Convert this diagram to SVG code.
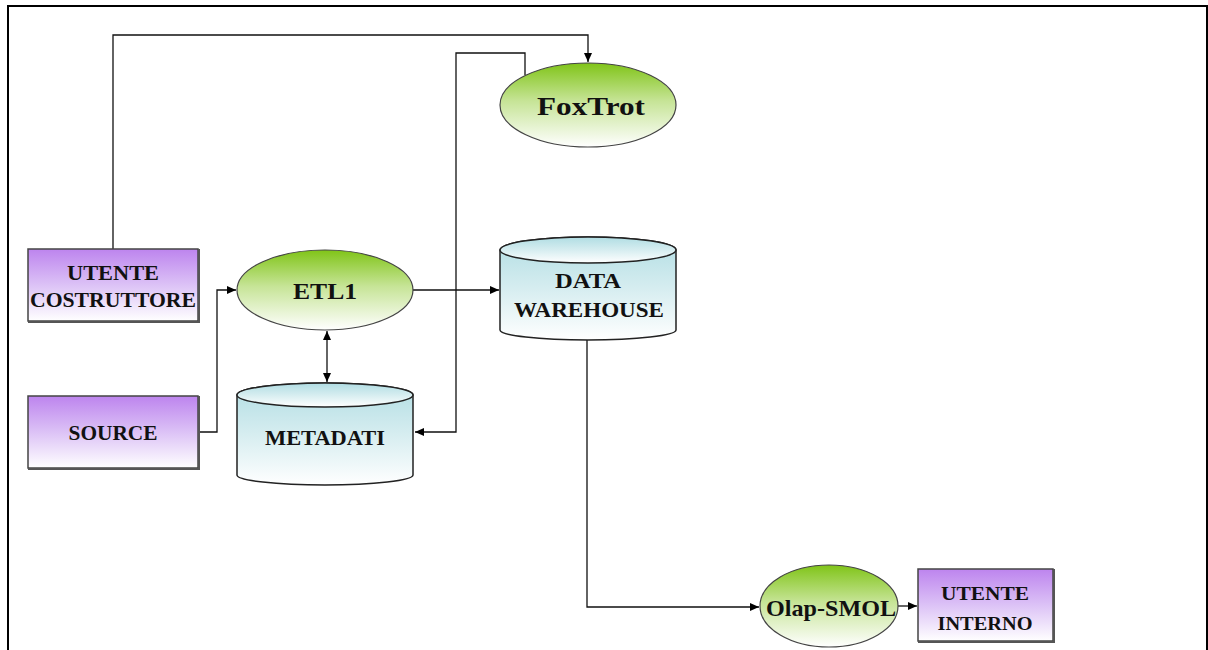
<svg xmlns="http://www.w3.org/2000/svg" width="1208" height="650" viewBox="0 0 1208 650">
<defs>
<linearGradient id="gGreen" x1="0" y1="0" x2="0" y2="1">
<stop offset="0" stop-color="#80c418"/><stop offset="0.45" stop-color="#c6e496"/><stop offset="1" stop-color="#ffffff"/>
</linearGradient>
<linearGradient id="gPurple" x1="0" y1="0" x2="0" y2="1">
<stop offset="0" stop-color="#bd84ee"/><stop offset="0.5" stop-color="#dcc2f6"/><stop offset="1" stop-color="#ffffff"/>
</linearGradient>
<linearGradient id="gCyan" x1="0" y1="0" x2="0" y2="1">
<stop offset="0" stop-color="#b0dde3"/><stop offset="0.5" stop-color="#d6edf0"/><stop offset="1" stop-color="#ffffff"/>
</linearGradient>
<marker id="arr" markerWidth="10" markerHeight="10" refX="9" refY="5" orient="auto" markerUnits="userSpaceOnUse">
<path d="M0,1 L9,5 L0,9 Z" fill="#000"/>
</marker>
<marker id="arrS" markerWidth="10" markerHeight="10" refX="1" refY="5" orient="auto" markerUnits="userSpaceOnUse">
<path d="M10,1 L1,5 L10,9 Z" fill="#000"/>
</marker>
</defs>
<style>
.box{fill:url(#gPurple);stroke:#444;stroke-width:1.5}
.shadow{fill:none;stroke:#555;stroke-width:2}
.ell{fill:url(#gGreen);stroke:#444;stroke-width:1.2}
.cyl{fill:url(#gCyan);stroke:#222;stroke-width:1.5}
.conn{fill:none;stroke:#111;stroke-width:1.3}
.lbl{font-family:"Liberation Serif",serif;font-weight:bold;fill:#111;text-anchor:middle}
</style>
<rect x="0" y="0" width="1208" height="650" fill="#fff"/>
<path d="M8,652 L8,6 L1207,6 L1207,652" fill="none" stroke="#000" stroke-width="2"/>

<g id="connectors">
<path class="conn" d="M113,249 L113,35 L588,35 L588,62" marker-end="url(#arr)"/>
<path class="conn" d="M525,75 L525,53 L456,53 L456,432 L415,432" marker-end="url(#arr)"/>
<path class="conn" d="M199,432 L217,432 L217,290 L236,290" marker-end="url(#arr)"/>
<path class="conn" d="M327,331 L327,382" marker-start="url(#arrS)" marker-end="url(#arr)"/>
<path class="conn" d="M413,290 L499,290" marker-end="url(#arr)"/>
<path class="conn" d="M587,337 L587,607 L759,607" marker-end="url(#arr)"/>
<path class="conn" d="M898,606 L917,606" marker-end="url(#arr)"/>
</g>

<g id="utente-costruttore">
<rect class="box" x="28" y="249" width="170" height="72"/>
<path class="shadow" d="M199,249 L199,322 L28,322"/>
<text class="lbl" x="113" y="280" font-size="20" textLength="92" lengthAdjust="spacingAndGlyphs">UTENTE</text>
<text class="lbl" x="113" y="307" font-size="20" textLength="166" lengthAdjust="spacingAndGlyphs">COSTRUTTORE</text>
</g>

<g id="source">
<rect class="box" x="28" y="396" width="170" height="72"/>
<path class="shadow" d="M199,396 L199,469 L28,469"/>
<text class="lbl" x="113" y="440" font-size="20" textLength="89" lengthAdjust="spacingAndGlyphs">SOURCE</text>
</g>

<g id="etl1">
<ellipse class="ell" cx="325" cy="290" rx="88" ry="40"/>
<text class="lbl" x="325" y="299" font-size="24" textLength="64" lengthAdjust="spacingAndGlyphs">ETL1</text>
</g>

<g id="metadati">
<path class="cyl" d="M237,395 L237,475 A88,10 0 0 0 413,475 L413,395 A88,12 0 0 0 237,395 Z"/>
<ellipse class="cyl" cx="325" cy="395" rx="88" ry="12"/>
<text class="lbl" x="325" y="445" font-size="20" textLength="120" lengthAdjust="spacingAndGlyphs">METADATI</text>
</g>

<g id="data-warehouse">
<path class="cyl" d="M500,250 L500,330 A88,10 0 0 0 676,330 L676,250 A88,13 0 0 0 500,250 Z"/>
<ellipse class="cyl" cx="588" cy="250" rx="88" ry="13"/>
<text class="lbl" x="588" y="288" font-size="20" textLength="66" lengthAdjust="spacingAndGlyphs">DATA</text>
<text class="lbl" x="589" y="317" font-size="20" textLength="150" lengthAdjust="spacingAndGlyphs">WAREHOUSE</text>
</g>

<g id="foxtrot">
<ellipse class="ell" cx="588" cy="105" rx="88" ry="42"/>
<text class="lbl" x="591" y="115" font-size="26" textLength="108" lengthAdjust="spacingAndGlyphs">FoxTrot</text>
</g>

<g id="olap-smol">
<ellipse class="ell" cx="829" cy="606" rx="69" ry="41"/>
<text class="lbl" x="831" y="616" font-size="24" textLength="130" lengthAdjust="spacingAndGlyphs">Olap-SMOL</text>
</g>

<g id="utente-interno">
<rect class="box" x="918" y="569" width="135" height="72"/>
<path class="shadow" d="M1054,569 L1054,642 L918,642"/>
<text class="lbl" x="985" y="600" font-size="19" textLength="88" lengthAdjust="spacingAndGlyphs">UTENTE</text>
<text class="lbl" x="985" y="630" font-size="19" textLength="95" lengthAdjust="spacingAndGlyphs">INTERNO</text>
</g>
</svg>
